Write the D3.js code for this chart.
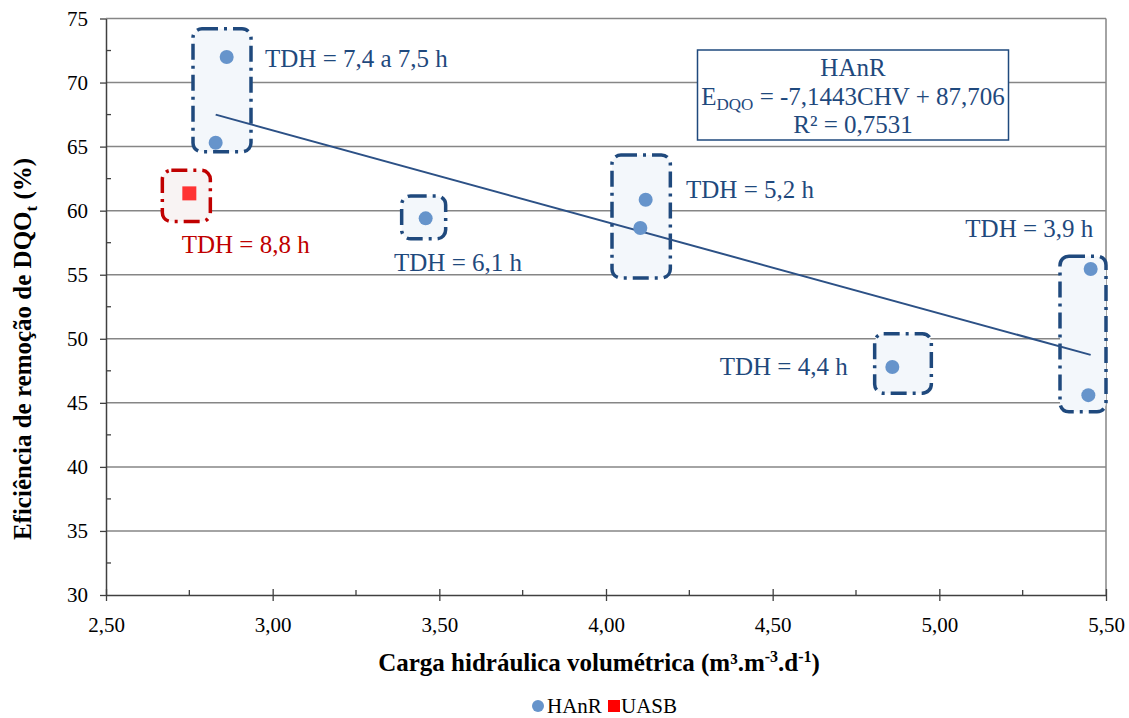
<!DOCTYPE html>
<html>
<head>
<meta charset="utf-8">
<script src="https://cdn.jsdelivr.net/npm/d3@7/dist/d3.min.js"></script>
<style>
  body { margin: 0; background: #fff; }
  svg text { font-family: "Liberation Serif", "Times New Roman", serif; }
</style>
</head>
<body>
<svg id="chart" width="1129" height="718"></svg>
<script>
// HAnR points (CHV, efficiency %)
var hanrX = [2.862, 2.829, 3.459, 4.119, 4.103, 4.859, 5.454, 5.447];
var hanrY = [72.0, 65.3, 59.4, 60.85, 58.65, 47.8, 55.45, 45.6];
// UASB point
var uasbX = [2.75];
var uasbY = [61.35];

// linear trend (from the chart)
var slope = -7.1443;
var intercept = 87.706;

// ticks
var xTicks = [2.5, 3.0, 3.5, 4.0, 4.5, 5.0, 5.5];
var yTicks = [30, 35, 40, 45, 50, 55, 60, 65, 70, 75];

// TDH boxes: [x0, x1, y0, y1] in data units, label text
var boxExtents = [
  [2.761, 2.935, 64.6, 74.2],
  [2.669, 2.813, 59.15, 63.15],
  [3.387, 3.519, 57.8, 61.15],
  [4.018, 4.193, 54.75, 64.35],
  [4.806, 4.976, 45.75, 50.4],
  [5.362, 5.500, 44.3, 56.45]
];
var boxLabels = ['TDH = 7,4 a 7,5 h', 'TDH = 8,8 h', 'TDH = 6,1 h', 'TDH = 5,2 h', 'TDH = 4,4 h', 'TDH = 3,9 h'];
var boxIsUasb = [false, true, false, false, false, false];
// label baseline anchor points (data units)
var labelX = [2.977, 2.727, 3.364, 4.24, 4.725, 5.462];
var labelY = [71.22, 56.68, 55.3, 60.98, 47.19, 57.98];
var labelAnchor = ['start', 'start', 'start', 'start', 'end', 'end'];

var blue = '#1f497d';
var red = '#c00000';

var svg = d3.select('#chart');
var margin = { left: 106, right: 1106, top: 18.5, bottom: 595 };

var x = d3.scaleLinear().domain([2.5, 5.5]).range([margin.left, margin.right]);
var y = d3.scaleLinear().domain([30, 75]).range([margin.bottom, margin.top]);

// gridlines
svg.append('g')
  .selectAll('line')
  .data(yTicks.slice(1))
  .enter()
  .append('line')
  .attr('x1', margin.left).attr('x2', margin.right)
  .attr('y1', function (d) { return y(d); })
  .attr('y2', function (d) { return y(d); })
  .attr('stroke', '#868686')
  .attr('stroke-width', 1.5);

// right border
svg.append('line')
  .attr('x1', margin.right).attr('x2', margin.right)
  .attr('y1', margin.top).attr('y2', margin.bottom)
  .attr('stroke', '#868686').attr('stroke-width', 1.5);

// boxes
var boxes = svg.append('g');
boxExtents.forEach(function (b, i) {
  boxes.append('rect')
    .attr('x', x(b[0]))
    .attr('y', y(b[3]))
    .attr('width', x(b[1]) - x(b[0]))
    .attr('height', y(b[2]) - y(b[3]))
    .attr('rx', 9).attr('ry', 9)
    .attr('fill', boxIsUasb[i] ? '#f8f3f3' : '#f3f7fb')
    .attr('stroke', boxIsUasb[i] ? red : blue)
    .attr('stroke-width', 3.5)
    .attr('stroke-dasharray', '16,6,3,6');
});

// trend line over HAnR x range
var tx = d3.extent(hanrX);
svg.append('line')
  .attr('x1', x(tx[0])).attr('y1', y(slope * tx[0] + intercept))
  .attr('x2', x(tx[1])).attr('y2', y(slope * tx[1] + intercept))
  .attr('stroke', '#2c5186')
  .attr('stroke-width', 2);

// points
svg.append('g')
  .selectAll('circle')
  .data(d3.range(hanrX.length))
  .enter()
  .append('circle')
  .attr('cx', function (i) { return x(hanrX[i]); })
  .attr('cy', function (i) { return y(hanrY[i]); })
  .attr('r', 7)
  .attr('fill', '#6694cb');

svg.append('g')
  .selectAll('rect')
  .data(d3.range(uasbX.length))
  .enter()
  .append('rect')
  .attr('x', function (i) { return x(uasbX[i]) - 7; })
  .attr('y', function (i) { return y(uasbY[i]) - 7; })
  .attr('width', 14).attr('height', 14)
  .attr('fill', '#ff3333');

// box labels
boxLabels.forEach(function (t, i) {
  svg.append('text')
    .attr('x', x(labelX[i]))
    .attr('y', y(labelY[i]))
    .attr('text-anchor', labelAnchor[i])
    .attr('font-size', 25)
    .attr('fill', boxIsUasb[i] ? red : blue)
    .text(t);
});

// axes
var xAxis = d3.axisBottom(x)
  .tickValues(xTicks)
  .tickSizeInner(6).tickSizeOuter(0)
  .tickFormat(function (d) { return d3.format('.2f')(d).replace('.', ','); });
var gx = svg.append('g')
  .attr('transform', 'translate(0,' + margin.bottom + ')')
  .call(xAxis);
gx.select('.domain').attr('stroke', '#404040').attr('stroke-width', 1.5);
gx.selectAll('.tick line').attr('stroke', '#404040').attr('y1', -6).attr('stroke-width', 1.3);
gx.selectAll('.tick text')
  .attr('font-size', 21).attr('fill', '#000').attr('y', 16).attr('dy', '1em')
  .style('font-family', '"Liberation Serif", serif');

// x minor ticks (inside)
svg.append('g')
  .selectAll('line')
  .data(d3.range(xTicks.length - 1))
  .enter()
  .append('line')
  .attr('x1', function (i) { return x((xTicks[i] + xTicks[i + 1]) / 2); })
  .attr('x2', function (i) { return x((xTicks[i] + xTicks[i + 1]) / 2); })
  .attr('y1', margin.bottom - 5).attr('y2', margin.bottom)
  .attr('stroke', '#404040').attr('stroke-width', 1.3);

var yAxis = d3.axisLeft(y)
  .tickValues(yTicks)
  .tickSizeInner(6).tickSizeOuter(0)
  .tickFormat(d3.format('d'));
var gy = svg.append('g')
  .attr('transform', 'translate(' + margin.left + ',0)')
  .call(yAxis);
gy.select('.domain').attr('stroke', '#404040').attr('stroke-width', 1.5);
gy.selectAll('.tick line').attr('stroke', '#404040').attr('stroke-width', 1.3);
gy.selectAll('.tick text')
  .attr('font-size', 21).attr('fill', '#000').attr('x', -18)
  .style('font-family', '"Liberation Serif", serif');

// y minor ticks (inside)
svg.append('g')
  .selectAll('line')
  .data(d3.range(yTicks.length - 1))
  .enter()
  .append('line')
  .attr('y1', function (i) { return y((yTicks[i] + yTicks[i + 1]) / 2); })
  .attr('y2', function (i) { return y((yTicks[i] + yTicks[i + 1]) / 2); })
  .attr('x1', margin.left).attr('x2', margin.left + 5)
  .attr('stroke', '#404040').attr('stroke-width', 1.3);

// equation box
var eq = svg.append('g');
eq.append('rect')
  .attr('x', 697.5).attr('y', 50)
  .attr('width', 311).attr('height', 90)
  .attr('fill', '#fff')
  .attr('stroke', blue).attr('stroke-width', 1.5);
eq.append('text')
  .attr('x', 853).attr('y', 76)
  .attr('text-anchor', 'middle').attr('font-size', 25).attr('fill', blue)
  .text('HAnR');
var eqLine = eq.append('text')
  .attr('x', 853).attr('y', 105)
  .attr('text-anchor', 'middle').attr('font-size', 25).attr('fill', blue);
eqLine.append('tspan').text('E');
eqLine.append('tspan').attr('font-size', 17).attr('dy', 5).text('DQO');
eqLine.append('tspan').attr('dy', -5).text(' = ' + String(slope).replace('.', ',') + 'CHV + ' + String(intercept).replace('.', ','));
eq.append('text')
  .attr('x', 853).attr('y', 133)
  .attr('text-anchor', 'middle').attr('font-size', 25).attr('fill', blue)
  .text('R² = 0,7531');

// axis titles
var xt = svg.append('text')
  .attr('x', 599).attr('y', 671)
  .attr('text-anchor', 'middle').attr('font-size', 25).attr('font-weight', 'bold')
  .attr('fill', '#000');
xt.append('tspan').text('Carga hidráulica volumétrica (m³.m');
xt.append('tspan').attr('font-size', 16).attr('dy', -9).text('-3');
xt.append('tspan').attr('dy', 9).text('.d');
xt.append('tspan').attr('font-size', 16).attr('dy', -9).text('-1');
xt.append('tspan').attr('dy', 9).text(')');

var yt = svg.append('text')
  .attr('transform', 'translate(31,349) rotate(-90)')
  .attr('text-anchor', 'middle').attr('font-size', 25).attr('font-weight', 'bold')
  .attr('fill', '#000');
yt.append('tspan').text('Eficiência de remoção de DQO');
yt.append('tspan').attr('font-size', 17).attr('dy', 6).text('t');
yt.append('tspan').attr('dy', -6).text(' (%)');

// legend
var lg = svg.append('g');
lg.append('circle').attr('cx', 538).attr('cy', 706).attr('r', 6).attr('fill', '#6694cb');
lg.append('text').attr('x', 547).attr('y', 713).attr('font-size', 21).attr('fill', '#000').text('HAnR');
lg.append('rect').attr('x', 608).attr('y', 700).attr('width', 12).attr('height', 12).attr('fill', '#ff0000');
lg.append('text').attr('x', 621).attr('y', 713).attr('font-size', 21).attr('fill', '#000').text('UASB');
</script>
</body>
</html>
